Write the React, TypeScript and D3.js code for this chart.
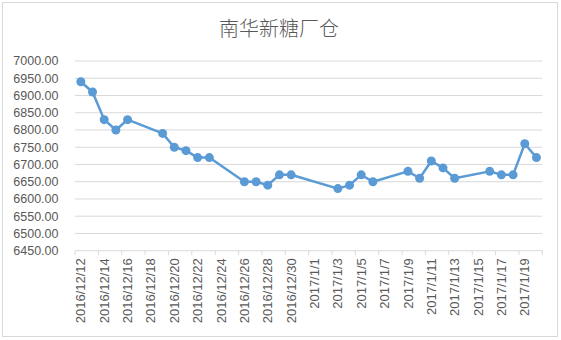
import React from "react";
import * as d3 from "d3";

const TITLE = "南华新糖厂仓";
const DATES = [
  "2016-12-12", "2016-12-13", "2016-12-14", "2016-12-15", "2016-12-16",
  "2016-12-19", "2016-12-20", "2016-12-21", "2016-12-22", "2016-12-23",
  "2016-12-26", "2016-12-27", "2016-12-28", "2016-12-29", "2016-12-30",
  "2017-01-03", "2017-01-04", "2017-01-05", "2017-01-06",
  "2017-01-09", "2017-01-10", "2017-01-11", "2017-01-12", "2017-01-13",
  "2017-01-16", "2017-01-17", "2017-01-18", "2017-01-19", "2017-01-20",
];
const VALUES = [
  6940, 6910, 6830, 6800, 6830,
  6790, 6750, 6740, 6720, 6720,
  6650, 6650, 6640, 6670, 6670,
  6630, 6640, 6670, 6650,
  6680, 6660, 6710, 6690, 6660,
  6680, 6670, 6670, 6760, 6720,
];
const Y_TICKS = [6450, 6500, 6550, 6600, 6650, 6700, 6750, 6800, 6850, 6900, 6950, 7000];
const X_START = "2016-12-12";
const X_END = "2017-01-21";

const DAY = 86400000;
const parse = (s: string) => new Date(s + "T00:00:00Z");

export default function App() {
  const W = 561, H = 340;
  const left = 75, right = 542.3, top = 61, bottom = 250.7;
  const x = d3.scaleUtc().domain([parse(X_START), parse(X_END)]).range([left, right]);
  const y = d3.scaleLinear().domain([6450, 7000]).range([bottom, top]);
  const tickDates = d3.utcDay.range(parse(X_START), new Date(parse(X_END).getTime() + 1), 2);
  const labelDates = tickDates.filter((d) => d < parse(X_END));
  const pts = DATES.map((d, i) => [x(new Date(parse(d).getTime() + DAY / 2)), y(VALUES[i])] as [number, number]);
  const line = d3.line();
  const fmt = (d: Date) => `${d.getUTCFullYear()}/${d.getUTCMonth() + 1}/${d.getUTCDate()}`;
  const txt = "#595959";
  return (
    <svg width={W} height={H} style={{ position: "absolute", left: 0, top: 0 }}>
      <rect x={0} y={0} width={W} height={H} fill="#fff" />
      <rect x={2.5} y={2.5} width={555} height={334} fill="#fff" stroke="#d9d9d9" />
      <text x={279} y={36} textAnchor="middle" fontSize={20} fill={txt}
        fontFamily="'Noto Sans CJK SC', sans-serif" fontWeight={300}>{TITLE}</text>
      {Y_TICKS.map((t) => (
        <g key={t}>
          {t !== 6450 && <line x1={left} x2={right} y1={y(t)} y2={y(t)} stroke="#d9d9d9" strokeWidth={1} />}
          <text x={58.5} y={y(t)} dy="0.35em" textAnchor="end" fontSize={12.5} fill={txt}
            fontFamily="'Liberation Sans', Arial, sans-serif">{t.toFixed(2)}</text>
        </g>
      ))}
      <line x1={left} x2={right} y1={bottom} y2={bottom} stroke="#d9d9d9" strokeWidth={1} />
      {tickDates.map((d, i) => (
        <line key={i} x1={x(d)} x2={x(d)} y1={bottom} y2={bottom + 4.5} stroke="#d9d9d9" />
      ))}
      {labelDates.map((d, i) => {
        const cx = x(new Date(d.getTime() + DAY / 2));
        return (
          <text key={i} transform={`translate(${cx},${bottom + 7.5}) rotate(-90)`} textAnchor="end"
            dy="0.35em" fontSize={13} fill={txt} fontFamily="'Liberation Sans', Arial, sans-serif">
            {fmt(d)}
          </text>
        );
      })}
      <path d={line(pts) || ""} fill="none" stroke="#5b9bd5" strokeWidth={2.5} strokeLinejoin="round" />
      {pts.map((p, i) => (
        <circle key={i} cx={p[0]} cy={p[1]} r={4.5} fill="#5b9bd5" />
      ))}
    </svg>
  );
}
